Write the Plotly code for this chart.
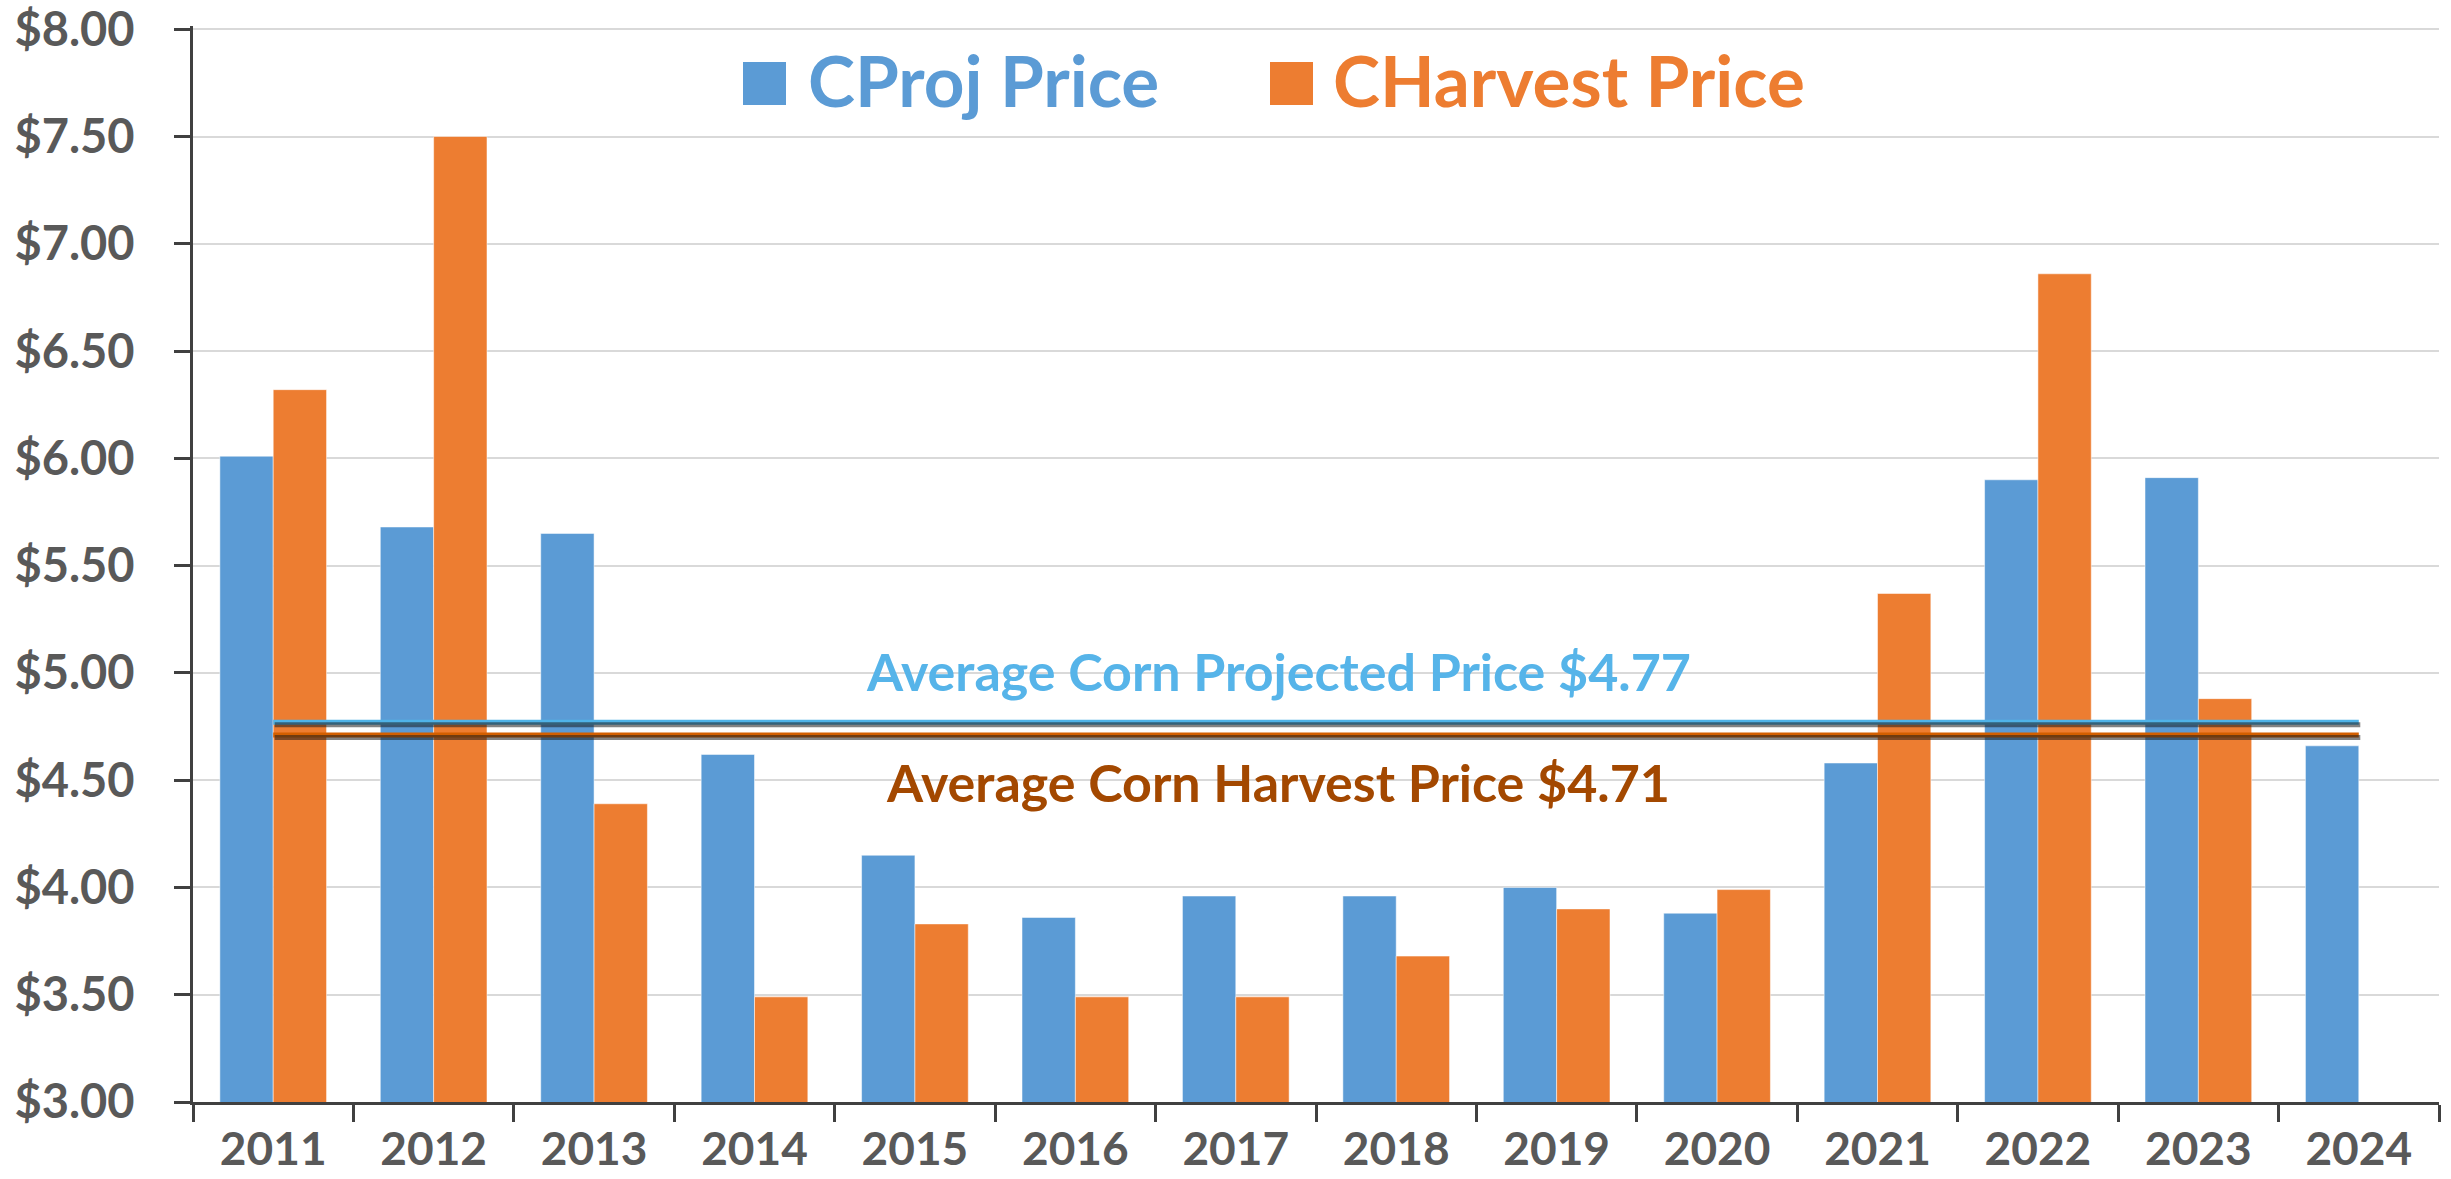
import plotly.graph_objects as go

years = ["2011", "2012", "2013", "2014", "2015", "2016", "2017",
         "2018", "2019", "2020", "2021", "2022", "2023", "2024"]
proj_price = [6.01, 5.68, 5.65, 4.62, 4.15, 3.86, 3.96, 3.96, 4.00, 3.88, 4.58, 5.90, 5.91, 4.66]
harvest_price = [6.32, 7.50, 4.39, 3.49, 3.83, 3.49, 3.49, 3.68, 3.90, 3.99, 5.37, 6.86, 4.88, None]
avg_proj = 4.77
avg_harvest = 4.71
y_ticks = [3.0, 3.5, 4.0, 4.5, 5.0, 5.5, 6.0, 6.5, 7.0, 7.5, 8.0]
y_tick_labels = ["$%.2f" % v for v in y_ticks]

W, H = 2451, 1179
Y_MIN, Y_MAX = 3.0, 8.015
L, R, T, B = 193, 12, 26, 77
plot_w = W - L - R
plot_h = H - T - B

BLUE = "#5B9BD5"
ORANGE = "#ED7D31"
AVG_BLUE = "#4FB3E8"
AVG_ORANGE = "#D35F00"
LBL_BLUE = "#56B4E9"
LBL_ORANGE = "#A34800"
TXT = "#595959"
FONT = "Lato"

fig = go.Figure()
fig.add_trace(go.Bar(x=years, y=proj_price, name="CProj Price",
                     marker=dict(color=BLUE, line=dict(color="rgba(255,255,255,0.5)", width=1))))
fig.add_trace(go.Bar(x=years, y=harvest_price, name="CHarvest Price",
                     marker=dict(color=ORANGE, line=dict(color="rgba(255,255,255,0.5)", width=1))))

# shadows (drawn on shifted overlay axes)
dx = 1.5 / (plot_w / len(years))
dy = 2.5 * (Y_MAX - Y_MIN) / plot_h
for val in (avg_proj, avg_harvest):
    fig.add_trace(go.Scatter(x=years, y=[val] * len(years), mode="lines",
                             line=dict(color="rgba(30,30,30,0.55)", width=5),
                             xaxis="x2", yaxis="y2", showlegend=False, hoverinfo="skip"))
fig.add_trace(go.Scatter(x=years, y=[avg_proj] * len(years), mode="lines",
                         line=dict(color=AVG_BLUE, width=5), showlegend=False,
                         name="Average Corn Projected Price"))
fig.add_trace(go.Scatter(x=years, y=[avg_harvest] * len(years), mode="lines",
                         line=dict(color=AVG_ORANGE, width=5), showlegend=False,
                         name="Average Corn Harvest Price"))

def px_x(p):
    return (p - L) / plot_w

def px_y(p):
    return (H - B - p) / plot_h

shapes = [
    dict(type="rect", xref="paper", yref="paper", x0=px_x(743), x1=px_x(786),
         y0=px_y(105), y1=px_y(62), fillcolor=BLUE, line=dict(width=0)),
    dict(type="rect", xref="paper", yref="paper", x0=px_x(1270), x1=px_x(1313),
         y0=px_y(105), y1=px_y(62), fillcolor=ORANGE, line=dict(width=0)),
]

annotations = [
    dict(text="CProj Price", xref="paper", yref="paper", x=px_x(806), y=px_y(79),
         xanchor="left", yanchor="middle", showarrow=False,
         font=dict(family=FONT, size=71, color=BLUE, weight="bold")),
    dict(text="CHarvest Price", xref="paper", yref="paper", x=px_x(1331), y=px_y(79),
         xanchor="left", yanchor="middle", showarrow=False,
         font=dict(family=FONT, size=71, color=ORANGE, weight="bold")),
    dict(text="Average Corn Projected Price $%.2f" % avg_proj, xref="paper", yref="y",
         x=px_x(1278), y=5.01, xanchor="center", yanchor="middle", showarrow=False,
         font=dict(family=FONT, size=52, color=LBL_BLUE, weight="bold")),
    dict(text="Average Corn Harvest Price $%.2f" % avg_harvest, xref="paper", yref="y",
         x=px_x(1278), y=4.49, xanchor="center", yanchor="middle", showarrow=False,
         font=dict(family=FONT, size=52, color=LBL_ORANGE, weight="bold")),
]

fig.update_layout(
    width=W, height=H, autosize=False,
    margin=dict(l=L, r=R, t=T, b=B, pad=0),
    paper_bgcolor="white", plot_bgcolor="white",
    barmode="group", bargap=0.335, bargroupgap=0,
    showlegend=False,
    shapes=shapes, annotations=annotations,
    xaxis=dict(type="category", categoryorder="array", categoryarray=years,
               range=[-0.5, len(years) - 0.5], automargin=False,
               showline=True, linecolor="#404040", linewidth=3,
               ticks="outside", tickson="boundaries", ticklen=17, tickwidth=3, tickcolor="#404040",
               tickfont=dict(family=FONT, size=46, color=TXT, weight="bold"),
               ticklabelstandoff=5, ticklabeloverflow="allow",
               showgrid=False, zeroline=False),
    yaxis=dict(range=[Y_MIN, Y_MAX], tickvals=y_ticks, ticktext=y_tick_labels,
               automargin=False,
               showline=True, linecolor="#404040", linewidth=3,
               ticks="outside", ticklen=16, tickwidth=3, tickcolor="#404040",
               tickfont=dict(family=FONT, size=47, color=TXT, weight="bold"),
               ticklabelstandoff=30, ticklabeloverflow="allow",
               showgrid=True, gridcolor="#D9D9D9", gridwidth=2, zeroline=False),
    xaxis2=dict(type="category", categoryorder="array", categoryarray=years,
                overlaying="x", range=[-0.5 - dx, len(years) - 0.5 - dx], visible=False),
    yaxis2=dict(overlaying="y", range=[Y_MIN + dy, Y_MAX + dy], visible=False),
)

fig.write_html("out.html", config={"displayModeBar": False},
               post_script="document.body.style.margin='0';")
